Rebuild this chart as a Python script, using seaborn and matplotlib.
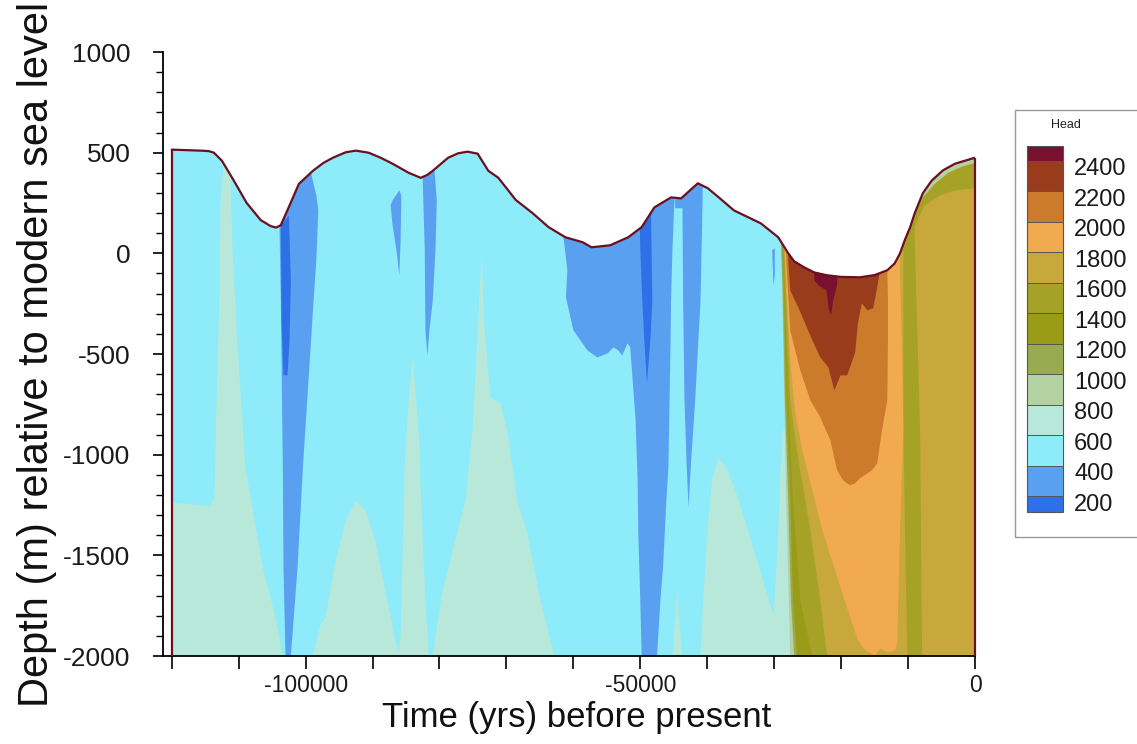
import matplotlib
matplotlib.use("Agg")
import matplotlib.pyplot as plt
import seaborn as sns
from matplotlib.patches import Polygon, Rectangle
from matplotlib.colors import ListedColormap, BoundaryNorm
from matplotlib.cm import ScalarMappable
from matplotlib.ticker import MultipleLocator
from matplotlib.transforms import ScaledTranslation

# ---------------------------------------------------------------- data
HEAD_LEVELS = [200, 400, 600, 800, 1000, 1200, 1400, 1600, 1800, 2000, 2200, 2400]
# colour of each head band, from "< 200" up to "> 2400"
HEAD_COLORS = ["#2e70e8", "#5aa0f0", "#8eecfa", "#b8e8da", "#b2d2a2", "#9aaa50",
               "#9a9c18", "#a6a228", "#c8a83a", "#f2aa50", "#cc7a2c", "#983c1c",
               "#7a1030"]

DEPTH_FLOOR = -2000

# top of the model domain (m) through time (yrs before present)
SURF_T = [-120000, -115600, -114500, -113700, -112500, -110700, -108800, -106700,
          -105200, -104400, -103700, -102500, -101000, -98900, -97300, -95900,
          -94000, -92500, -90600, -88800, -87000, -84600, -82800, -81800,
          -81000, -78700, -77200, -75800, -74300, -72700, -71200, -68600,
          -66100, -63700, -61200, -58600, -57300, -54500, -51800, -49800,
          -47900, -45400, -43900, -41400, -39900, -38000, -36000, -32000,
          -29400, -27900, -27000, -25500, -24000, -22100, -20000, -17200,
          -15000, -13100, -12000, -11200, -10500, -9700, -9000, -7800,
          -6500, -4800, -3000, -300, 0]
SURF_Z = [515, 510, 508, 500, 460, 360, 250, 165,
          135, 128, 140, 230, 345, 410, 450, 475,
          502, 510, 500, 475, 445, 400, 375, 390,
          410, 475, 497, 505, 495, 410, 375, 265,
          200, 130, 80, 55, 30, 40, 80, 130,
          228, 278, 273, 348, 323, 270, 213, 149,
          80, 0, -40, -70, -95, -109, -117, -119,
          -108, -84, -50, 0, 65, 129, 200, 298,
          360, 412, 445, 472, 475]

# head zones as (time, depth) outlines
MINT_WEST = [(-120000, -2000), (-120000, -1237), (-114200, -1257), (-113600, -1202),
             (-113300, -730), (-112900, -233), (-112700, 264), (-112200, 460),
             (-111300, 460), (-110900, 15), (-110300, -383), (-109000, -1063),
             (-106400, -1560), (-104500, -1808), (-103400, -2000)]
MINT_RIDGE_A = [(-98900, -2000), (-97800, -1848), (-97000, -1808), (-95500, -1525),
                (-94000, -1326), (-92500, -1227), (-91000, -1277), (-89600, -1426),
                (-88100, -1674), (-86600, -1922), (-85800, -2000)]
MINT_SPIKE_A = [(-86100, -2000), (-85800, -1887), (-85200, -1063), (-84600, -730),
                (-84000, -517), (-83600, -680), (-83100, -894), (-82500, -1426),
                (-82100, -1724), (-81600, -2000)]
MINT_RIDGE_B = [(-81000, -2000), (-79800, -1724), (-78400, -1525), (-76100, -1227),
                (-75100, -894), (-74300, -397), (-73700, 15), (-73400, -318),
                (-72400, -715), (-70900, -745), (-69800, -894), (-68400, -1227),
                (-66900, -1391), (-64900, -1724), (-63000, -1982), (-62700, -2000)]
MINT_SPIKE_B = [(-45200, -2000), (-44800, -1823), (-44500, -1664), (-44200, -1823),
                (-43700, -2000)]
MINT_RIDGE_C = [(-41000, -2000), (-40600, -1724), (-40000, -1391), (-39300, -1128),
                (-38400, -1018), (-37300, -1053), (-35800, -1177), (-33900, -1376),
                (-32100, -1575), (-30100, -1798), (-29600, -1525), (-29100, -1128),
                (-28700, -879), (-26100, -879), (-26100, -2000)]

BLUE_A = [(-103900, 139), (-102500, 263), (-100700, 363), (-99200, 402),
          (-98400, 288), (-98100, 214), (-98400, -35), (-98800, -233),
          (-100400, -1063), (-101200, -1560), (-102200, -2000), (-103000, -2000),
          (-103300, -1560), (-103400, -1063), (-103700, -233)]
DEEP_A = [(-103700, 139), (-102500, 189), (-102200, -134), (-102400, -432),
          (-102700, -606), (-103300, -606), (-103600, -333)]
BLUE_B = [(-87300, 238), (-87000, 263), (-86000, 313), (-85700, 288),
          (-85800, 65), (-86000, -109), (-86400, 10), (-87000, 139)]
BLUE_C = [(-82500, 480), (-80900, 480), (-80400, 263), (-80600, 15),
          (-81000, -233), (-81500, -382), (-81800, -507), (-82100, -382),
          (-82200, 15), (-82500, 363)]
BLUE_D = [(-61900, 600), (-61900, 139), (-61500, 89), (-60900, -84),
          (-61100, -219), (-60000, -382), (-57900, -482), (-56400, -517),
          (-54900, -497), (-54000, -467), (-53300, -482), (-52700, -507),
          (-51900, -447), (-51500, -467), (-50700, -829), (-50400, -1128),
          (-50300, -1391), (-50000, -1724), (-49800, -2000), (-47500, -2000),
          (-47000, -1724), (-46600, -1560), (-46100, -1227), (-45800, -1063),
          (-45500, -482), (-45400, -233), (-45200, 15), (-44900, 263),
          (-44800, 600)]
DEEP_D = [(-50100, 199), (-48400, 214), (-48200, -233), (-48500, -432),
          (-49000, -646), (-49400, -432), (-49700, -233), (-50000, 15)]
BLUE_E = [(-44800, 600), (-40600, 600), (-40700, 263), (-41000, -233),
          (-41400, -482), (-41800, -730), (-42400, -1028), (-42800, -1262),
          (-43100, -1028), (-43400, -730), (-43600, -233), (-43700, 224),
          (-44800, 224)]
BLUE_F = [(-30300, 15), (-29900, 25), (-29900, -109), (-30100, -159)]

EAST_800 = [(-29100, 600), (-29100, 114), (-28800, -233), (-28500, -730),
            (-28200, -1227), (-27800, -1724), (-27600, -2000), (0, -2000), (0, 600)]
EAST_1000 = [(-29000, 600), (-29000, 89), (-28700, -233), (-28400, -730),
             (-27900, -1227), (-27500, -1724), (-27000, -2000), (0, -2000), (0, 600)]
EAST_1200 = [(-28800, 600), (-28800, 65), (-28500, -233), (-28200, -730),
             (-27600, -1227), (-27200, -1724), (-26600, -2000), (0, -2000), (0, 600)]
EAST_1400 = [(-28700, 600), (-28700, 40), (-28400, -233), (-27900, -730),
             (-27200, -1227), (-26100, -1724), (-24300, -2000), (0, -2000), (0, 600)]
EAST_1600_W = [(-28500, 600), (-28500, 15), (-28200, -233), (-27600, -730),
               (-26600, -978), (-24600, -1376), (-23100, -1724), (-22100, -2000),
               (-10100, -2000), (-10400, -1475), (-10700, -879), (-10700, 65),
               (-10700, 600)]
EAST_1600_E = [(-9000, 600), (-9000, 65), (-8200, -879), (-7900, -2000),
               (0, -2000), (0, 600)]
EAST_1800 = [(-28400, 600), (-28400, 0), (-28100, -233), (-27600, -531),
             (-26900, -780), (-25800, -978), (-24300, -1177), (-22800, -1376),
             (-20900, -1575), (-19000, -1773), (-17500, -1922), (-16400, -1972),
             (-14900, -1997), (-14200, -1962), (-13000, -1982), (-11900, -1972),
             (-11600, -1922), (-11200, -1376), (-10700, -879), (-10900, -482),
             (-11200, -99), (-11200, 600)]
EAST_2000 = [(-28200, 600), (-28200, -35), (-27600, -382), (-26100, -581),
             (-24600, -730), (-23100, -815), (-21600, -929), (-20600, -1078),
             (-19700, -1128), (-18700, -1152), (-17900, -1142), (-17200, -1118),
             (-16100, -1093), (-15400, -1078), (-14600, -1043), (-13900, -879),
             (-13100, -730), (-13000, -432), (-13000, -233), (-13100, -84),
             (-13100, 600)]
EAST_2200 = [(-27900, 600), (-27900, -35), (-27600, -184), (-26400, -268),
             (-24300, -432), (-23100, -517), (-21900, -566), (-21200, -656),
             (-21000, -680), (-20100, -606), (-19100, -606), (-17900, -492),
             (-17500, -348), (-16900, -248), (-16100, -283), (-15200, -273),
             (-14900, -219), (-14500, -149), (-14200, -84), (-14200, 600)]
EAST_2400 = [(-24300, 600), (-20400, 600), (-20600, -159), (-21200, -233),
             (-21500, -308), (-21800, -283), (-22200, -184), (-23400, -159),
             (-24000, -134)]
CREST_OLIVE = [(-9400, 600), (-9400, 65), (-9000, 139), (-7500, 238),
               (-5200, 288), (-3000, 313), (0, 323), (0, 600)]
CREST_PALE = [(-8000, 600), (-8000, 270), (-6000, 345), (-4000, 400),
              (-2000, 430), (0, 450), (0, 600)]

# drawing order: (band index into HEAD_COLORS, outline)
ZONES = [
    (3, MINT_WEST), (3, MINT_RIDGE_A), (3, MINT_SPIKE_A), (3, MINT_RIDGE_B),
    (3, MINT_SPIKE_B), (3, MINT_RIDGE_C),
    (1, BLUE_A), (0, DEEP_A), (1, BLUE_B), (1, BLUE_C), (1, BLUE_D),
    (0, DEEP_D), (1, BLUE_E), (1, BLUE_F),
    (4, EAST_800), (5, EAST_1000), (6, EAST_1200), (7, EAST_1400),
    (8, EAST_1600_W), (8, EAST_1600_E), (9, EAST_1800), (10, EAST_2000),
    (11, EAST_2200), (12, EAST_2400), (7, CREST_OLIVE), (4, CREST_PALE),
]

EDGE = "#6a1020"

# ---------------------------------------------------------------- style
sns.set_theme(style="ticks")
plt.rcParams["font.family"] = ["Liberation Sans", "DejaVu Sans"]
plt.rcParams["axes.unicode_minus"] = False

W, H = 1137, 744
fig = plt.figure(figsize=(W / 100, H / 100), dpi=100)
ax = fig.add_axes([163 / W, 1 - 656 / H, (975 - 163) / W, (656 - 52) / H])

# model domain: surface profile closed along the floor
dom_t = [SURF_T[0]] + SURF_T + [SURF_T[-1]]
dom_z = [DEPTH_FLOOR] + SURF_Z + [DEPTH_FLOOR]
clip = Polygon(list(zip(dom_t, dom_z)), closed=True, transform=ax.transData)

ax.fill(dom_t, dom_z, color=HEAD_COLORS[2], lw=0, zorder=1)
for band, outline in ZONES:
    ts, zs = zip(*outline)
    for p in ax.fill(ts, zs, color=HEAD_COLORS[band], lw=0, zorder=1):
        p.set_clip_path(clip)

# domain outline
sns.lineplot(x=SURF_T, y=SURF_Z, ax=ax, color=EDGE, linewidth=1.6,
             estimator=None, sort=False, zorder=3)
ax.vlines([SURF_T[0], SURF_T[-1]], DEPTH_FLOOR, [SURF_Z[0], SURF_Z[-1]],
          colors=EDGE, linewidth=1.6, zorder=3, clip_on=False)

ax.set_xlim(-121300, 0)
ax.set_ylim(-2000, 1000)
ax.set_facecolor("white")

ax.xaxis.set_major_locator(MultipleLocator(50000))
ax.xaxis.set_minor_locator(MultipleLocator(10000))
ax.yaxis.set_major_locator(MultipleLocator(500))
ax.yaxis.set_minor_locator(MultipleLocator(100))

ax.tick_params(axis="x", which="both", direction="out", length=9, width=1.2,
               color="black", labelsize=16.5, pad=4)
ax.tick_params(axis="y", which="major", direction="out", length=7.5, width=1.2,
               color="black", labelsize=19, pad=16)
ax.tick_params(axis="y", which="minor", direction="out", length=5, width=1.0,
               color="black")
for lab in ax.get_xticklabels() + ax.get_yticklabels():
    lab.set_color("#1a1a1a")

sns.despine(ax=ax)
for side in ("left", "bottom"):
    ax.spines[side].set_linewidth(1.3)
    ax.spines[side].set_color("black")

ax.set_xlabel("Time (yrs) before present", fontsize=25, labelpad=0, color="#111")
ax.set_ylabel("Depth (m) relative to modern sea level", fontsize=30,
              labelpad=4, color="#111")
ax.xaxis.set_label_coords(0.51, -0.075)

# ---------------------------------------------------------------- legend
fig.add_artist(Rectangle((1015 / W, 1 - 537 / H), 0.2, 427 / H,
                         transform=fig.transFigure, fill=False,
                         edgecolor="#9a9a9a", linewidth=1.0))
fig.text(1066 / W, 1 - 125 / H, "Head", ha="center", va="center",
         fontsize=9, color="#222")

cmap = ListedColormap(HEAD_COLORS[1:-1])
cmap.set_under(HEAD_COLORS[0])
cmap.set_over(HEAD_COLORS[-1])
norm = BoundaryNorm(HEAD_LEVELS, cmap.N)
cax = fig.add_axes([1027 / W, 1 - 511.7 / H, 36 / W, 366 / H])
cbar = fig.colorbar(ScalarMappable(norm=norm, cmap=cmap), cax=cax,
                    extend="both", extendrect=True, extendfrac=0.5 / 11,
                    drawedges=True, ticks=HEAD_LEVELS)
cbar.outline.set_edgecolor("#555555")
cbar.outline.set_linewidth(0.8)
cbar.dividers.set_color("#555555")
cbar.dividers.set_linewidth(0.7)
cax.tick_params(length=0, pad=8, labelsize=17, labelcolor="#1a1a1a")
cax.set_yticklabels([str(v) for v in HEAD_LEVELS])
shift = ScaledTranslation(0, -6 / 100, fig.dpi_scale_trans)
for lab in cax.get_yticklabels():
    lab.set_transform(lab.get_transform() + shift)

fig.savefig("out.png", dpi=100, facecolor="white")
